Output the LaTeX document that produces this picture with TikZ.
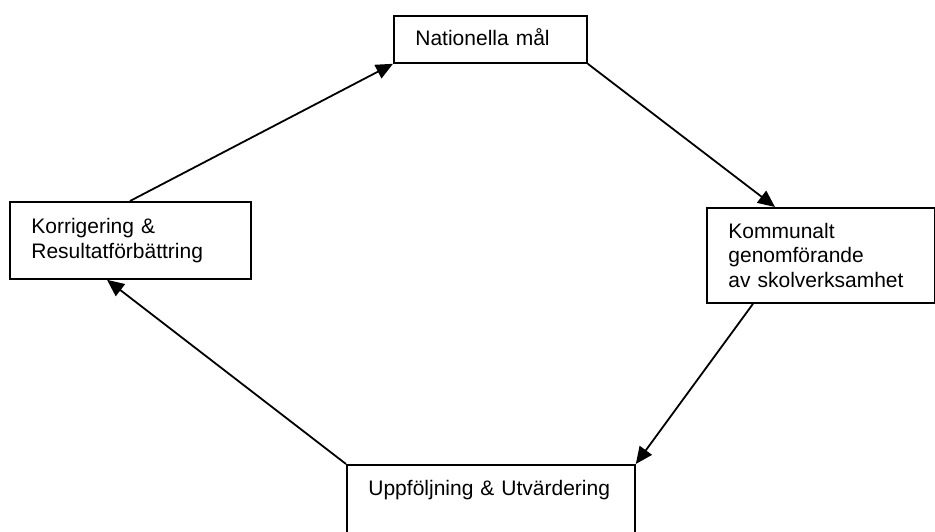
\documentclass[tikz,border=0pt]{standalone}
\usepackage{fontspec}
\setmainfont{Liberation Sans}
\usetikzlibrary{arrows.meta}
\begin{document}
\begin{tikzpicture}[x=1pt,y=-1pt,
  box/.style={draw, line width=1.8pt, align=left, inner xsep=21.5pt, inner ysep=0pt,
    font=\fontsize{21}{24.4}\selectfont, anchor=north west},
  conn/.style={line width=1.8pt, -{Triangle[length=17pt,width=15pt]}}]
\useasboundingbox (0,0) rectangle (935,531);
\node[box, text width=150pt, minimum height=47pt, text depth=5pt] (nat) at (393,15) {Nationella mål};
\node[box, text width=198pt, minimum height=77pt] (kor) at (9,201) {Korrigering \&\\Resultatförbättring};
\node[box, text width=185pt, minimum height=95pt] (kom) at (706,207) {Kommunalt\\genomförande\\av skolverksamhet};
\node[box, text width=245pt, text height=15pt, text depth=40pt, inner ysep=16pt] (upp) at (346,464) {Uppföljning \& Utvärdering};
\draw[conn] ([xshift=121pt]kor.north west) -- (nat.south west);
\draw[conn] (nat.south east) -- ([xshift=69pt]kom.north west);
\draw[conn] ([xshift=47pt]kom.south west) -- (upp.north east);
\draw[conn] (upp.north west) -- ([xshift=98pt]kor.south west);
\end{tikzpicture}
\end{document}
